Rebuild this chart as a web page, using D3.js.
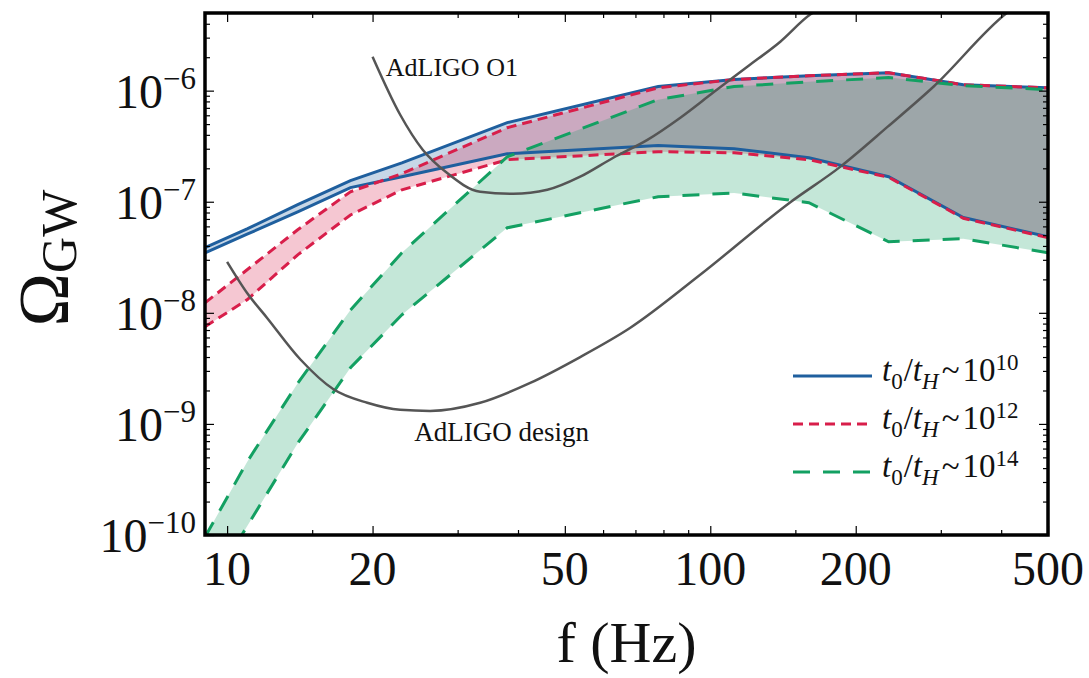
<!DOCTYPE html>
<html>
<head>
<meta charset="utf-8">
<script src="https://cdn.jsdelivr.net/npm/d3@7"></script>
<style>
  body { margin: 0; background: #fff; }
  text { font-family: "Liberation Serif", "Times New Roman", serif; fill: #111; }
</style>
</head>
<body>
<div id="chart"></div>
<script>
// frequency nodes (Hz) shared by the three bands
var freq = [9, 11, 14, 18, 23, 38, 78, 112, 160, 234, 334, 500];

// t0/tH ~ 10^10
var upper10 = [3.86e-8, 5.7e-8, 9.4e-8, 1.55e-7, 2.24e-7, 5.15e-7, 1.09e-6, 1.26e-6, 1.36e-6, 1.45e-6, 1.13e-6, 1.06e-6];
var lower10 = [3.47e-8, 5.1e-8, 8.1e-8, 1.34e-7, 1.68e-7, 2.70e-7, 3.2e-7, 3.0e-7, 2.49e-7, 1.68e-7, 7.2e-8, 4.84e-8];
// t0/tH ~ 10^12
var upper12 = [1.23e-8, 2.44e-8, 5.6e-8, 1.23e-7, 1.79e-7, 4.64e-7, 1.06e-6, 1.26e-6, 1.36e-6, 1.45e-6, 1.13e-6, 1.06e-6];
var lower12 = [7.5e-9, 1.31e-8, 3.33e-8, 7.6e-8, 1.28e-7, 2.39e-7, 2.82e-7, 2.76e-7, 2.39e-7, 1.66e-7, 7.1e-8, 4.75e-8];
// t0/tH ~ 10^14
var upper14 = [9.6e-11, 4.55e-10, 2.32e-9, 1.06e-8, 3.47e-8, 2.54e-7, 8.3e-7, 1.09e-6, 1.2e-6, 1.31e-6, 1.11e-6, 1.02e-6];
var lower14 = [2.8e-11, 1.2e-10, 6.7e-10, 3.2e-9, 9.6e-9, 5.83e-8, 1.11e-7, 1.2e-7, 9.8e-8, 4.36e-8, 4.65e-8, 3.47e-8];

// detector sensitivity curves
var fO1 = [20, 22.8, 25.4, 28.5, 33.4, 39.1, 46, 53.8, 63, 74.1, 86.7, 101.4, 119.3, 139.6, 161, 190];
var omegaO1 = [2.02e-6, 6.1e-7, 2.94e-7, 1.82e-7, 1.23e-7, 1.18e-7, 1.28e-7, 1.68e-7, 2.49e-7, 3.6e-7, 5.7e-7, 9.6e-7, 1.64e-6, 2.76e-6, 4.84e-6, 6.6e-6];
var fDesign = [10, 11, 12.1, 14.2, 16.6, 19.5, 22.8, 26.3, 33.4, 42.4, 53.8, 68.2, 95.3, 146, 186, 233, 290, 412, 440];
var omegaDesign = [2.88e-8, 1.51e-8, 9.0e-9, 3.78e-9, 2.05e-9, 1.55e-9, 1.34e-9, 1.31e-9, 1.55e-9, 2.34e-9, 4.0e-9, 7.3e-9, 2.2e-8, 9.8e-8, 2.07e-7, 4.74e-7, 1.09e-6, 5.05e-6, 6.2e-6];

var xMajor = [10, 20, 50, 100, 200, 500];
var xMinor = [15, 30, 40, 60, 70, 80, 90, 150, 300, 400];
var yExp = [-10, -9, -8, -7, -6];

var legendLabels = ["10", "12", "14"];

var margin = { top: 13, right: 41, bottom: 143, left: 205 },
  width = 1089 - margin.left - margin.right,
  height = 678 - margin.top - margin.bottom;

var x = d3.scaleLog().domain([9, 500]).range([0, width]);
var y = d3.scaleLog().domain([1e-10, 5e-6]).range([height, 0]);

var colors = ["#1f5f9e", "#d81e4a", "#13a062"];
var dashes = [null, "10,6", "17,13"];

var svg = d3.select("#chart").append("svg")
  .attr("width", 1089)
  .attr("height", 678);

svg.append("defs").append("clipPath")
  .attr("id", "plotclip")
  .append("rect")
  .attr("width", width)
  .attr("height", height);

var g = svg.append("g")
  .attr("transform", "translate(" + margin.left + "," + margin.top + ")");

var plot = g.append("g").attr("clip-path", "url(#plotclip)");

var bands = [
  [upper10, lower10],
  [upper12, lower12],
  [upper14, lower14]
];

var area = d3.area()
  .x(function(d) { return x(d[0]); })
  .y0(function(d) { return y(d[2]); })
  .y1(function(d) { return y(d[1]); });

var line = d3.line()
  .x(function(d) { return x(d[0]); })
  .y(function(d) { return y(d[1]); });

// fills
bands.forEach(function(b, i) {
  var pts = freq.map(function(f, j) { return [f, b[0][j], b[1][j]]; });
  plot.append("path")
    .datum(pts)
    .attr("fill", colors[i])
    .attr("fill-opacity", 0.25)
    .attr("d", area);
});

// band edges
bands.forEach(function(b, i) {
  b.forEach(function(series) {
    var pts = freq.map(function(f, j) { return [f, series[j]]; });
    plot.append("path")
      .datum(pts)
      .attr("fill", "none")
      .attr("stroke", colors[i])
      .attr("stroke-width", 3)
      .attr("stroke-dasharray", dashes[i])
      .attr("d", line);
  });
});

// LIGO curves
var smooth = d3.line()
  .x(function(d) { return x(d[0]); })
  .y(function(d) { return y(d[1]); })
  .curve(d3.curveMonotoneX);

[[fO1, omegaO1], [fDesign, omegaDesign]].forEach(function(c) {
  plot.append("path")
    .datum(c[0].map(function(f, j) { return [f, c[1][j]]; }))
    .attr("fill", "none")
    .attr("stroke", "#555")
    .attr("stroke-width", 2.5)
    .attr("d", smooth);
});

g.append("text")
  .attr("x", x(21.3))
  .attr("y", y(omegaO1[0]) + 19)
  .attr("font-size", 26)
  .text("AdLIGO O1");

g.append("text")
  .attr("x", x(24.4))
  .attr("y", y(1.31e-9) + 30)
  .attr("font-size", 27)
  .text("AdLIGO design");

// ticks on all four sides, pointing inward
function xTicks(vals, len) {
  g.append("g")
    .attr("transform", "translate(0," + height + ")")
    .call(d3.axisBottom(x).tickValues(vals).tickSize(-len).tickFormat(""))
    .call(function(a) { a.select(".domain").remove(); a.selectAll("line").attr("stroke-width", 1.2); });
  g.append("g")
    .call(d3.axisTop(x).tickValues(vals).tickSize(-len).tickFormat(""))
    .call(function(a) { a.select(".domain").remove(); a.selectAll("line").attr("stroke-width", 1.2); });
}
xTicks(xMajor, 9);
xTicks(xMinor, 5);

var yMajor = yExp.map(function(e) { return Math.pow(10, e); });
var yMinor = [];
for (var e = -10; e <= -6; e++) {
  for (var k = 2; k <= 9; k++) {
    var v = k * Math.pow(10, e);
    if (v <= 5e-6) yMinor.push(v);
  }
}

function yTicks(vals, len) {
  g.append("g")
    .call(d3.axisLeft(y).tickValues(vals).tickSize(-len).tickFormat(""))
    .call(function(a) { a.select(".domain").remove(); a.selectAll("line").attr("stroke-width", 1.2); });
  g.append("g")
    .attr("transform", "translate(" + width + ",0)")
    .call(d3.axisRight(y).tickValues(vals).tickSize(-len).tickFormat(""))
    .call(function(a) { a.select(".domain").remove(); a.selectAll("line").attr("stroke-width", 1.2); });
}
yTicks(yMajor, 9);
yTicks(yMinor, 5);

// frame
g.append("rect")
  .attr("width", width)
  .attr("height", height)
  .attr("fill", "none")
  .attr("stroke", "#000")
  .attr("stroke-width", 3.5);

// tick labels
g.selectAll(".xlabel")
  .data(xMajor)
  .enter()
  .append("text")
  .attr("class", "xlabel")
  .attr("x", function(d) { return x(d); })
  .attr("y", height + 50)
  .attr("text-anchor", "middle")
  .attr("font-size", 48)
  .text(function(d) { return d; });

var ylab = g.selectAll(".ylabel")
  .data(yExp)
  .enter()
  .append("text")
  .attr("class", "ylabel")
  .attr("x", -9)
  .attr("y", function(d) { return y(Math.pow(10, d)) + 17; })
  .attr("text-anchor", "end")
  .attr("font-size", 48);
ylab.append("tspan").text("10");
ylab.append("tspan")
  .attr("font-size", 31)
  .attr("dy", -19)
  .text(function(d) { return "\u2212" + (-d); });

// axis titles
svg.append("text")
  .attr("x", margin.left + width / 2)
  .attr("y", 662)
  .attr("text-anchor", "middle")
  .attr("font-size", 58)
  .text("f (Hz)");

var yt = svg.append("text")
  .attr("transform", "translate(68,258) rotate(-90)")
  .attr("text-anchor", "middle")
  .attr("font-size", 72);
yt.append("tspan").text("\u03A9");
yt.append("tspan").attr("font-size", 50).attr("dy", 8).text("GW");

// legend
var legend = svg.selectAll(".legend")
  .data(legendLabels)
  .enter()
  .append("g")
  .attr("class", "legend")
  .attr("transform", function(d, i) { return "translate(793," + (376 + i * 48) + ")"; });

legend.append("line")
  .attr("x1", 0)
  .attr("x2", 79)
  .attr("stroke", function(d, i) { return colors[i]; })
  .attr("stroke-width", 3)
  .attr("stroke-dasharray", function(d, i) { return dashes[i]; });

var lt = legend.append("text")
  .attr("x", 89)
  .attr("y", 5)
  .attr("font-size", 33);
lt.append("tspan").attr("font-style", "italic").text("t");
lt.append("tspan").attr("font-size", 23).attr("dy", 8).text("0");
lt.append("tspan").attr("dy", -8).attr("dx", 1).text("/");
lt.append("tspan").attr("font-style", "italic").text("t");
lt.append("tspan").attr("font-size", 23).attr("font-style", "italic").attr("dy", 8).text("H");
lt.append("tspan").attr("dy", -8).attr("dx", 3).text("~");
lt.append("tspan").attr("dx", 3).text("10");
lt.append("tspan").attr("font-size", 23).attr("dy", -11).text(function(d) { return d; });
</script>
</body>
</html>
